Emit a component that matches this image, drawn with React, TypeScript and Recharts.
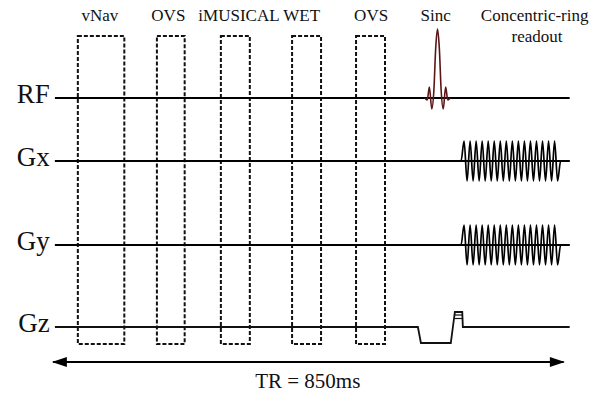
import { ComposedChart, Line, ReferenceArea, ReferenceLine, Scatter, XAxis, YAxis } from 'recharts';

// time axis in ms, TR arrow spans 0..850
const trMs = 850;
const timeDomain = [-86, 895];
// vertical levels (arbitrary units, bottom = 0)
const levelDomain = [0, 393];

const channels = ['RF', 'Gx', 'Gy', 'Gz'];
const channelLevels = [295, 232, 148, 66];
const arrowLevel = 31;

const modules = ['vNav', 'OVS', 'iMUSICAL', 'WET', 'OVS'];
const moduleStart = [43, 174, 280, 398, 504];
const moduleEnd = [120, 220, 328, 446, 552];
const moduleLabelT = [79.5, 193, 310, 414, 529];
const boxTop = 357;
const boxBottom = 49;

// sinc excitation on RF
const sincTimes = [618, 622, 625.5, 629.5, 633, 636, 639, 642, 645, 648.5, 652.5, 656, 660];
const sincAmp = [0, -2, 11, -11, 8, 50, 69, 50, 8, -11, 11, -2, 0];

// concentric-ring readout oscillation on Gx / Gy (half period steps)
const readoutStart = 678;
const readoutStep = 5;
const readoutAmp = [
  0, 20, -20, 20, -20, 20, -20, 20, -20, 20, -20, 20, -20, 20, -20, 20, -20,
  20, -20, 20, -20, 20, -20, 20, -20, 20, -20, 20, -20, 20, -20, 20, -20, 0,
];

// Gz slice select rewinder and phase-encode blip
const gzTimes = [5, 606.5, 611.5, 661, 664.5, 667.8, 680, 681, 858];
const gzAmp = [0, 0, -16, -16, 0, 15, 15, 0, 0];
const gzStripeAmp = [12, 8.5];

const lineStart = 5;
const lineEnd = 858;

const baseline = (level: number) => [
  { t: lineStart, v: level },
  { t: lineEnd, v: level },
];

const sincData = sincTimes.map((t, i) => ({ t, v: channelLevels[0] + sincAmp[i] }));
const readoutData = (level: number) =>
  readoutAmp.map((a, i) => ({ t: readoutStart + i * readoutStep, v: level + a }));
const gxData = [{ t: lineStart, v: channelLevels[1] }, ...readoutData(channelLevels[1]), { t: lineEnd, v: channelLevels[1] }];
const gyData = [{ t: lineStart, v: channelLevels[2] }, ...readoutData(channelLevels[2]), { t: lineEnd, v: channelLevels[2] }];
const gzData = gzTimes.map((t, i) => ({ t, v: channelLevels[3] + gzAmp[i] }));

const laneLabels = channels.map((name, i) => ({ t: -3.5, v: channelLevels[i] - 5, name }));
const headerLabels = [
  ...modules.map((name, i) => ({ t: moduleLabelT[i], v: 372, name })),
  { t: 636, v: 372, name: 'Sinc' },
  { t: 800, v: 372, name: 'Concentric-ring' },
  { t: 804, v: 351, name: 'readout' },
];
const trLabel = [{ t: 424, v: 5, name: `TR = ${trMs}ms` }];
const arrowHeads = [
  { t: 0, v: arrowLevel, dir: -1 },
  { t: trMs, v: arrowLevel, dir: 1 },
];

const serif = { fontFamily: "'Liberation Serif', 'Times New Roman', 'DejaVu Serif', serif" };

const LaneText = (p: any) => (
  <text x={p.cx} y={p.cy} textAnchor='end' style={serif} fontSize={27} fill='#111'>
    {p.payload.name}
  </text>
);
const HeaderText = (p: any) => (
  <text x={p.cx} y={p.cy} textAnchor='middle' style={serif} fontSize={17} fill='#111'>
    {p.payload.name}
  </text>
);
const TrText = (p: any) => (
  <text x={p.cx} y={p.cy} textAnchor='middle' style={serif} fontSize={21} fill='#111'>
    {p.payload.name}
  </text>
);
const ArrowHead = (p: any) => {
  const d = p.payload.dir;
  const x = p.cx;
  const y = p.cy;
  return <polygon points={`${x},${y} ${x - d * 15},${y - 5} ${x - d * 15},${y + 5}`} fill='#000' />;
};

export default function App() {
  return (
    <div style={{ position: 'absolute', left: 0, top: 0, width: 592, height: 393, background: '#fff' }}>
      <ComposedChart width={592} height={393} margin={{ top: 0, right: 0, bottom: 0, left: 0 }}>
        <XAxis dataKey='t' type='number' domain={timeDomain} allowDataOverflow hide />
        <YAxis dataKey='v' type='number' domain={levelDomain} allowDataOverflow hide />

        {modules.map((m, i) => (
          <ReferenceArea
            key={`${m}-${i}`}
            x1={moduleStart[i]}
            x2={moduleEnd[i]}
            y1={boxBottom}
            y2={boxTop}
            fill='none'
            fillOpacity={0}
            stroke='#111'
            strokeWidth={2}
            strokeDasharray='4 2'
          />
        ))}

        <Line data={baseline(channelLevels[0])} dataKey='v' stroke='#000' strokeWidth={2} dot={false} activeDot={false} isAnimationActive={false} />
        <Line data={sincData} dataKey='v' type='monotone' stroke='#5a1616' strokeWidth={1.6} dot={false} activeDot={false} isAnimationActive={false} />
        <Line data={gxData} dataKey='v' type='monotone' stroke='#000' strokeWidth={1.7} dot={false} activeDot={false} isAnimationActive={false} />
        <Line data={gyData} dataKey='v' type='monotone' stroke='#000' strokeWidth={1.7} dot={false} activeDot={false} isAnimationActive={false} />
        <Line data={baseline(channelLevels[1])} dataKey='v' stroke='#000' strokeWidth={2} dot={false} activeDot={false} isAnimationActive={false} />
        <Line data={baseline(channelLevels[2])} dataKey='v' stroke='#000' strokeWidth={2} dot={false} activeDot={false} isAnimationActive={false} />
        <Line data={gzData} dataKey='v' type='linear' stroke='#111' strokeWidth={1.8} dot={false} activeDot={false} isAnimationActive={false} />
        {gzStripeAmp.map((a) => (
          <ReferenceLine
            key={a}
            segment={[
              { x: 667.8, y: channelLevels[3] + a },
              { x: 680, y: channelLevels[3] + a },
            ]}
            stroke='#111'
            strokeWidth={1.2}
            ifOverflow='visible'
          />
        ))}

        <Line
          data={[
            { t: 2, v: arrowLevel },
            { t: trMs - 2, v: arrowLevel },
          ]}
          dataKey='v'
          stroke='#000'
          strokeWidth={2}
          dot={false}
          activeDot={false}
          isAnimationActive={false}
        />
        <Scatter data={arrowHeads} dataKey='v' shape={ArrowHead} isAnimationActive={false} />
        <Scatter data={laneLabels} dataKey='v' shape={LaneText} isAnimationActive={false} />
        <Scatter data={headerLabels} dataKey='v' shape={HeaderText} isAnimationActive={false} />
        <Scatter data={trLabel} dataKey='v' shape={TrText} isAnimationActive={false} />
      </ComposedChart>
    </div>
  );
}
